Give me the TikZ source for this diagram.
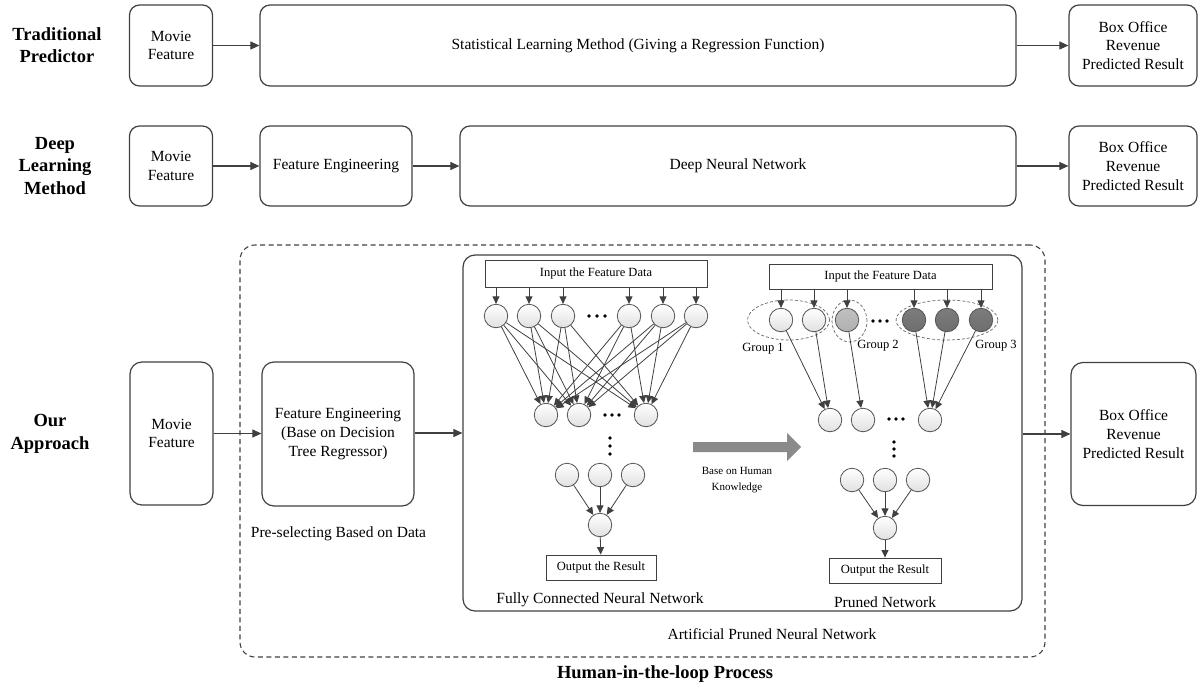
\documentclass[tikz,border=0pt]{standalone}
\usepackage{fontspec}
\setmainfont{Liberation Serif}
\usetikzlibrary{arrows.meta,shapes.geometric}
\definecolor{linec}{HTML}{404040}
\definecolor{circd}{HTML}{6E6E6E}
\definecolor{circm}{HTML}{B0B0B0}
\definecolor{bigarr}{HTML}{8A8A8A}
\newcommand{\myMain}{\fontsize{15.5}{18.7}\selectfont}
\newcommand{\mySmall}{\fontsize{12.5}{15}\selectfont}
\newcommand{\myTiny}{\fontsize{11}{16}\selectfont}
\newcommand{\myTitle}{\fontsize{18.5}{22.5}\selectfont\bfseries}
\begin{document}
\begin{tikzpicture}[x=1pt,y=-1pt,
  rbox/.style={draw=linec, line width=1.2pt, rounded corners=10pt, align=center, font=\myMain, inner sep=0pt},
  sbox/.style={draw=linec, line width=0.9pt, align=center, font=\mySmall, inner sep=0pt},
  arr/.style={draw=linec, line width=1.1pt, -{Triangle[length=9pt,width=8pt]}},
  sarr/.style={draw=linec, line width=0.8pt, -{Triangle[length=7.5pt,width=7pt]}},
  neu/.style={circle, draw=linec!90, line width=0.8pt, minimum size=23.5pt, inner sep=0pt, top color=white, bottom color=black!12},
  neud/.style={neu, top color=circd!90, bottom color=circd},
  neum/.style={neu, top color=circm!80, bottom color=circm},
  ttl/.style={font=\myTitle, align=center},
  lbl/.style={font=\myMain, align=center},
  grp/.style={ellipse, draw=linec!80, dash pattern=on 3pt off 2pt, line width=0.7pt, inner sep=0pt},
  dot/.style={circle, fill=black, inner sep=0pt, minimum size=3.6pt}
]
\useasboundingbox (0,0) rectangle (1199,688);

% ---------- Row 1 ----------
\node[ttl] (t1) at (57,45) {Traditional\\Predictor};
\node[rbox, minimum width=83pt, minimum height=81pt] (mf1) at (171,45.5) {Movie\\Feature};
\node[rbox, minimum width=756pt, minimum height=81pt] (stat) at (638,45.5) {Statistical Learning Method (Giving a Regression Function)};
\node[rbox, minimum width=128pt, minimum height=81pt] (bo1) at (1133,45.5) {Box Office\\Revenue\\Predicted Result};
\draw[arr] (mf1) -- (stat);
\draw[arr] (stat) -- (bo1);

% ---------- Row 2 ----------
\node[ttl] (t2) at (55,166) {Deep\\Learning\\Method};
\node[rbox, minimum width=83pt, minimum height=80pt] (mf2) at (171,166) {Movie\\Feature};
\node[rbox, minimum width=152pt, minimum height=80pt] (fe2) at (336,166) {Feature Engineering};
\node[rbox, minimum width=556pt, minimum height=80pt] (dnn) at (738,166) {Deep Neural Network};
\node[rbox, minimum width=128pt, minimum height=80pt] (bo2) at (1133,166) {Box Office\\Revenue\\Predicted Result};
\draw[arr] (mf2) -- (fe2);
\draw[arr] (fe2) -- (dnn);
\draw[arr] (dnn) -- (bo2);

% ---------- Row 3 ----------
\node[ttl] (t3) at (50,434) {Our\\Approach};
\node[draw=linec, line width=1.1pt, dash pattern=on 5pt off 3.5pt, rounded corners=15pt, minimum width=805pt, minimum height=412pt, inner sep=0pt] (hitl) at (642.5,451) {};
\node[rbox, minimum width=83pt, minimum height=143pt, rounded corners=12pt] (mf3) at (171.5,433.5) {Movie\\Feature};
\node[rbox, minimum width=152pt, minimum height=144pt, rounded corners=12pt] (fe3) at (338,434) {Feature Engineering\\(Base on Decision\\Tree Regressor)};
\node[draw=linec, line width=1.2pt, rounded corners=12pt, minimum width=559pt, minimum height=356pt, inner sep=0pt] (apnn) at (742.5,433) {};
\node[rbox, minimum width=125pt, minimum height=143pt, rounded corners=12pt] (bo3) at (1133.5,434) {Box Office\\Revenue\\Predicted Result};
\draw[arr] (mf3.east) -- (mf3.east -| fe3.west);
\draw[arr] (fe3.east |- 0,433) -- (apnn.west |- 0,433);
\draw[arr] (apnn.east |- bo3.west) -- (bo3.west);

\node[lbl] (pre) at (338.5,534) {Pre-selecting Based on Data};
\node[lbl] (apl) at (772,634) {Artificial Pruned Neural Network};
\node[ttl] (hl) at (665,674) {Human-in-the-loop Process};

% ---------- Left network (fully connected) ----------
\node[sbox, minimum width=222pt, minimum height=27pt] (inL) at (596,273.5) {Input the Feature Data};
\foreach \n/\x in {1/496,2/529,3/563,4/629,5/663,6/696}{
  \node[neu] (L\n) at (\x,316) {};
  \draw[sarr] (L\n |- inL.south) -- (L\n);
}
\foreach \x in {589,597,605}{ \node[dot] at (\x,316) {}; }
\foreach \n/\x in {1/546,2/579,3/646}{ \node[neu] (M\n) at (\x,415) {}; }
\foreach \x in {605,612,619}{ \node[dot] at (\x,415) {}; }
\foreach \a in {1,...,6}{
  \foreach \b in {1,2,3}{ \draw[sarr] (L\a) -- (M\b); }
}
\foreach \y in {438,446,454}{ \node[dot] at (610,\y) {}; }
\foreach \n/\x in {1/567,2/600,3/633}{ \node[neu] (B\n) at (\x,475) {}; }
\node[neu] (OL) at (600,525) {};
\foreach \n in {1,2,3}{ \draw[sarr] (B\n) -- (OL); }
\node[sbox, minimum width=110pt, minimum height=25pt] (outL) at (601,567.5) {Output the Result};
\draw[sarr] (OL) -- (outL);
\node[lbl] (fcl) at (600,600) {Fully Connected Neural Network};

% ---------- Big arrow ----------
\fill[bigarr] (693,442) -- (787,442) -- (787,433) -- (801,447) -- (787,461) -- (787,452) -- (693,452) -- cycle;
\node[font=\myTiny, align=center] (hk) at (737,480) {Base on Human\\Knowledge};

% ---------- Right network (pruned) ----------
\node[grp, minimum width=82pt, minimum height=40pt] (g1) at (788.5,320) {};
\node[grp, minimum width=35pt, minimum height=42pt] (g2) at (849.5,321) {};
\node[grp, minimum width=102pt, minimum height=40pt] (g3) at (947,320) {};
\node[sbox, minimum width=223pt, minimum height=25pt] (inR) at (880.5,276.5) {Input the Feature Data};
\node[neu] (R1) at (781,320) {};
\node[neu] (R2) at (814,320) {};
\node[neum] (R3) at (847,320) {};
\node[neud] (R4) at (914,320) {};
\node[neud] (R5) at (947,320) {};
\node[neud] (R6) at (981,320) {};
\foreach \n in {1,...,6}{ \draw[sarr] (R\n |- inR.south) -- (R\n); }
\foreach \x in {873,880,887}{ \node[dot] at (\x,321) {}; }
\node[font=\mySmall] (gl1) at (763,349) {Group 1};
\node[font=\mySmall] (gl2) at (878,346) {Group 2};
\node[font=\mySmall] (gl3) at (996,346) {Group 3};
\node[neu] (N1) at (830,420) {};
\node[neu] (N2) at (863,420) {};
\node[neu] (N3) at (930,420) {};
\foreach \x in {889,896,903}{ \node[dot] at (\x,419) {}; }
\draw[sarr] (R1) -- (N1);
\draw[sarr] (R2) -- (N1);
\draw[sarr] (R3) -- (N2);
\draw[sarr] (R4) -- (N3);
\draw[sarr] (R5) -- (N3);
\draw[sarr] (R6) -- (N3);
\foreach \y in {442,449,456}{ \node[dot] at (894,\y) {}; }
\foreach \n/\x in {1/852,2/885,3/918}{ \node[neu] (P\n) at (\x,480) {}; }
\node[neu] (OR) at (885,528) {};
\foreach \n in {1,2,3}{ \draw[sarr] (P\n) -- (OR); }
\node[sbox, minimum width=112pt, minimum height=25pt] (outR) at (885,570.5) {Output the Result};
\draw[sarr] (OR) -- (outR);
\node[lbl] (pnl) at (885,602) {Pruned Network};
\end{tikzpicture}
\end{document}
